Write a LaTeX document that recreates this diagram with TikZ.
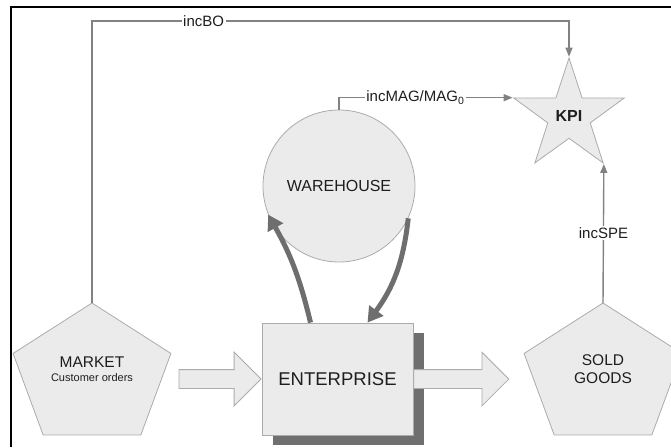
\documentclass[tikz,border=0pt]{standalone}
\usepackage{fontspec}
\setmainfont{Liberation Sans}
\usepackage{tikz}
\usetikzlibrary{arrows.meta,positioning,shapes.geometric,shapes.arrows,shadows}
\definecolor{shapefill}{HTML}{EBEBEB}
\definecolor{shapeline}{HTML}{ABABAB}
\definecolor{linkgray}{HTML}{828282}
\definecolor{thickgray}{HTML}{6E6E6E}
\definecolor{shadowgray}{HTML}{6F6F6F}
\definecolor{textdark}{HTML}{1E1E1E}

\begin{document}
\begin{tikzpicture}[x=1pt, y=-1pt, text=textdark,
        main/.style = {draw=shapeline, fill=shapefill, line width=0.8pt},
        link/.style = {draw=linkgray, line width=1.4pt, -{Triangle[length=9pt,width=7pt]}},
        lbl/.style = {fill=white, inner sep=1.5pt, font=\fontsize{15}{18}\selectfont},
        flow/.style = {draw=thickgray, line width=5pt, -{Triangle[length=15pt,width=17pt]}},
        blockarrow/.style = {main, single arrow, text height=9pt, text depth=9pt, text width=0pt, single arrow head extend=17.5pt, inner sep=0pt}]
    \useasboundingbox (0,0) rectangle (671,447);
    \draw[line width=2.5pt] (11,447) -- (11,7) -- (671,7);

    % pentagons
    \filldraw[main] (92,376) +(-90:83 and 73) -- +(-18:83 and 73) -- +(54:83 and 73) -- +(126:83 and 73) -- +(198:83 and 73) -- cycle;
    \filldraw[main] (603,376) +(-90:83 and 73) -- +(-18:83 and 73) -- +(54:83 and 73) -- +(126:83 and 73) -- +(198:83 and 73) -- cycle;
    \coordinate (mkttop) at (92,303);
    \coordinate (soldtop) at (603,303);
    \coordinate (bocorner) at (92,21);
    \node[align=center, font=\fontsize{15.5}{15}\selectfont] (market) at (92,369) {MARKET\\[-1pt]{\fontsize{11}{13}\selectfont Customer orders}};
    \node[align=center, font=\fontsize{15.5}{17.5}\selectfont] (sold) at (603,369) {SOLD\\GOODS};

    \node[main, star, star points=5, star point ratio=2.6, minimum size=116pt, inner sep=0pt, font=\bfseries\fontsize{16}{18}\selectfont] (kpi) at (569,116) {KPI};
    \node[main, circle, minimum size=152pt, font=\fontsize{16}{18}\selectfont] (wh) at (339,186) {WAREHOUSE};
    \node[main, rectangle, minimum width=151pt, minimum height=112pt, font=\fontsize{18.5}{20}\selectfont,
          drop shadow={shadow xshift=11pt, shadow yshift=-10pt, fill=shadowgray, opacity=1}] (ent) at (337.5,379) {ENTERPRISE};

    \node[blockarrow, minimum height=82pt, left=0pt of ent] (inflow) {};
    \node[blockarrow, minimum height=95pt, right=0pt of ent] (outflow) {};

    \draw[flow] ([xshift=-27pt]ent.north) to[bend right=8] (wh.202);
    \draw[flow] (wh.-25) to[bend left=15] ([xshift=30pt]ent.north);

    \draw[link] (mkttop) -- (bocorner) -| node[lbl, pos=0.117] {incBO} (kpi.outer point 1);
    \draw[link] (wh.north) |- node[lbl, pos=0.72] {incMAG/MAG\textsubscript{0}} (kpi.outer point 2);
    \draw[link] (soldtop) -- node[lbl] {incSPE} (kpi.outer point 4);
\end{tikzpicture}
\end{document}
